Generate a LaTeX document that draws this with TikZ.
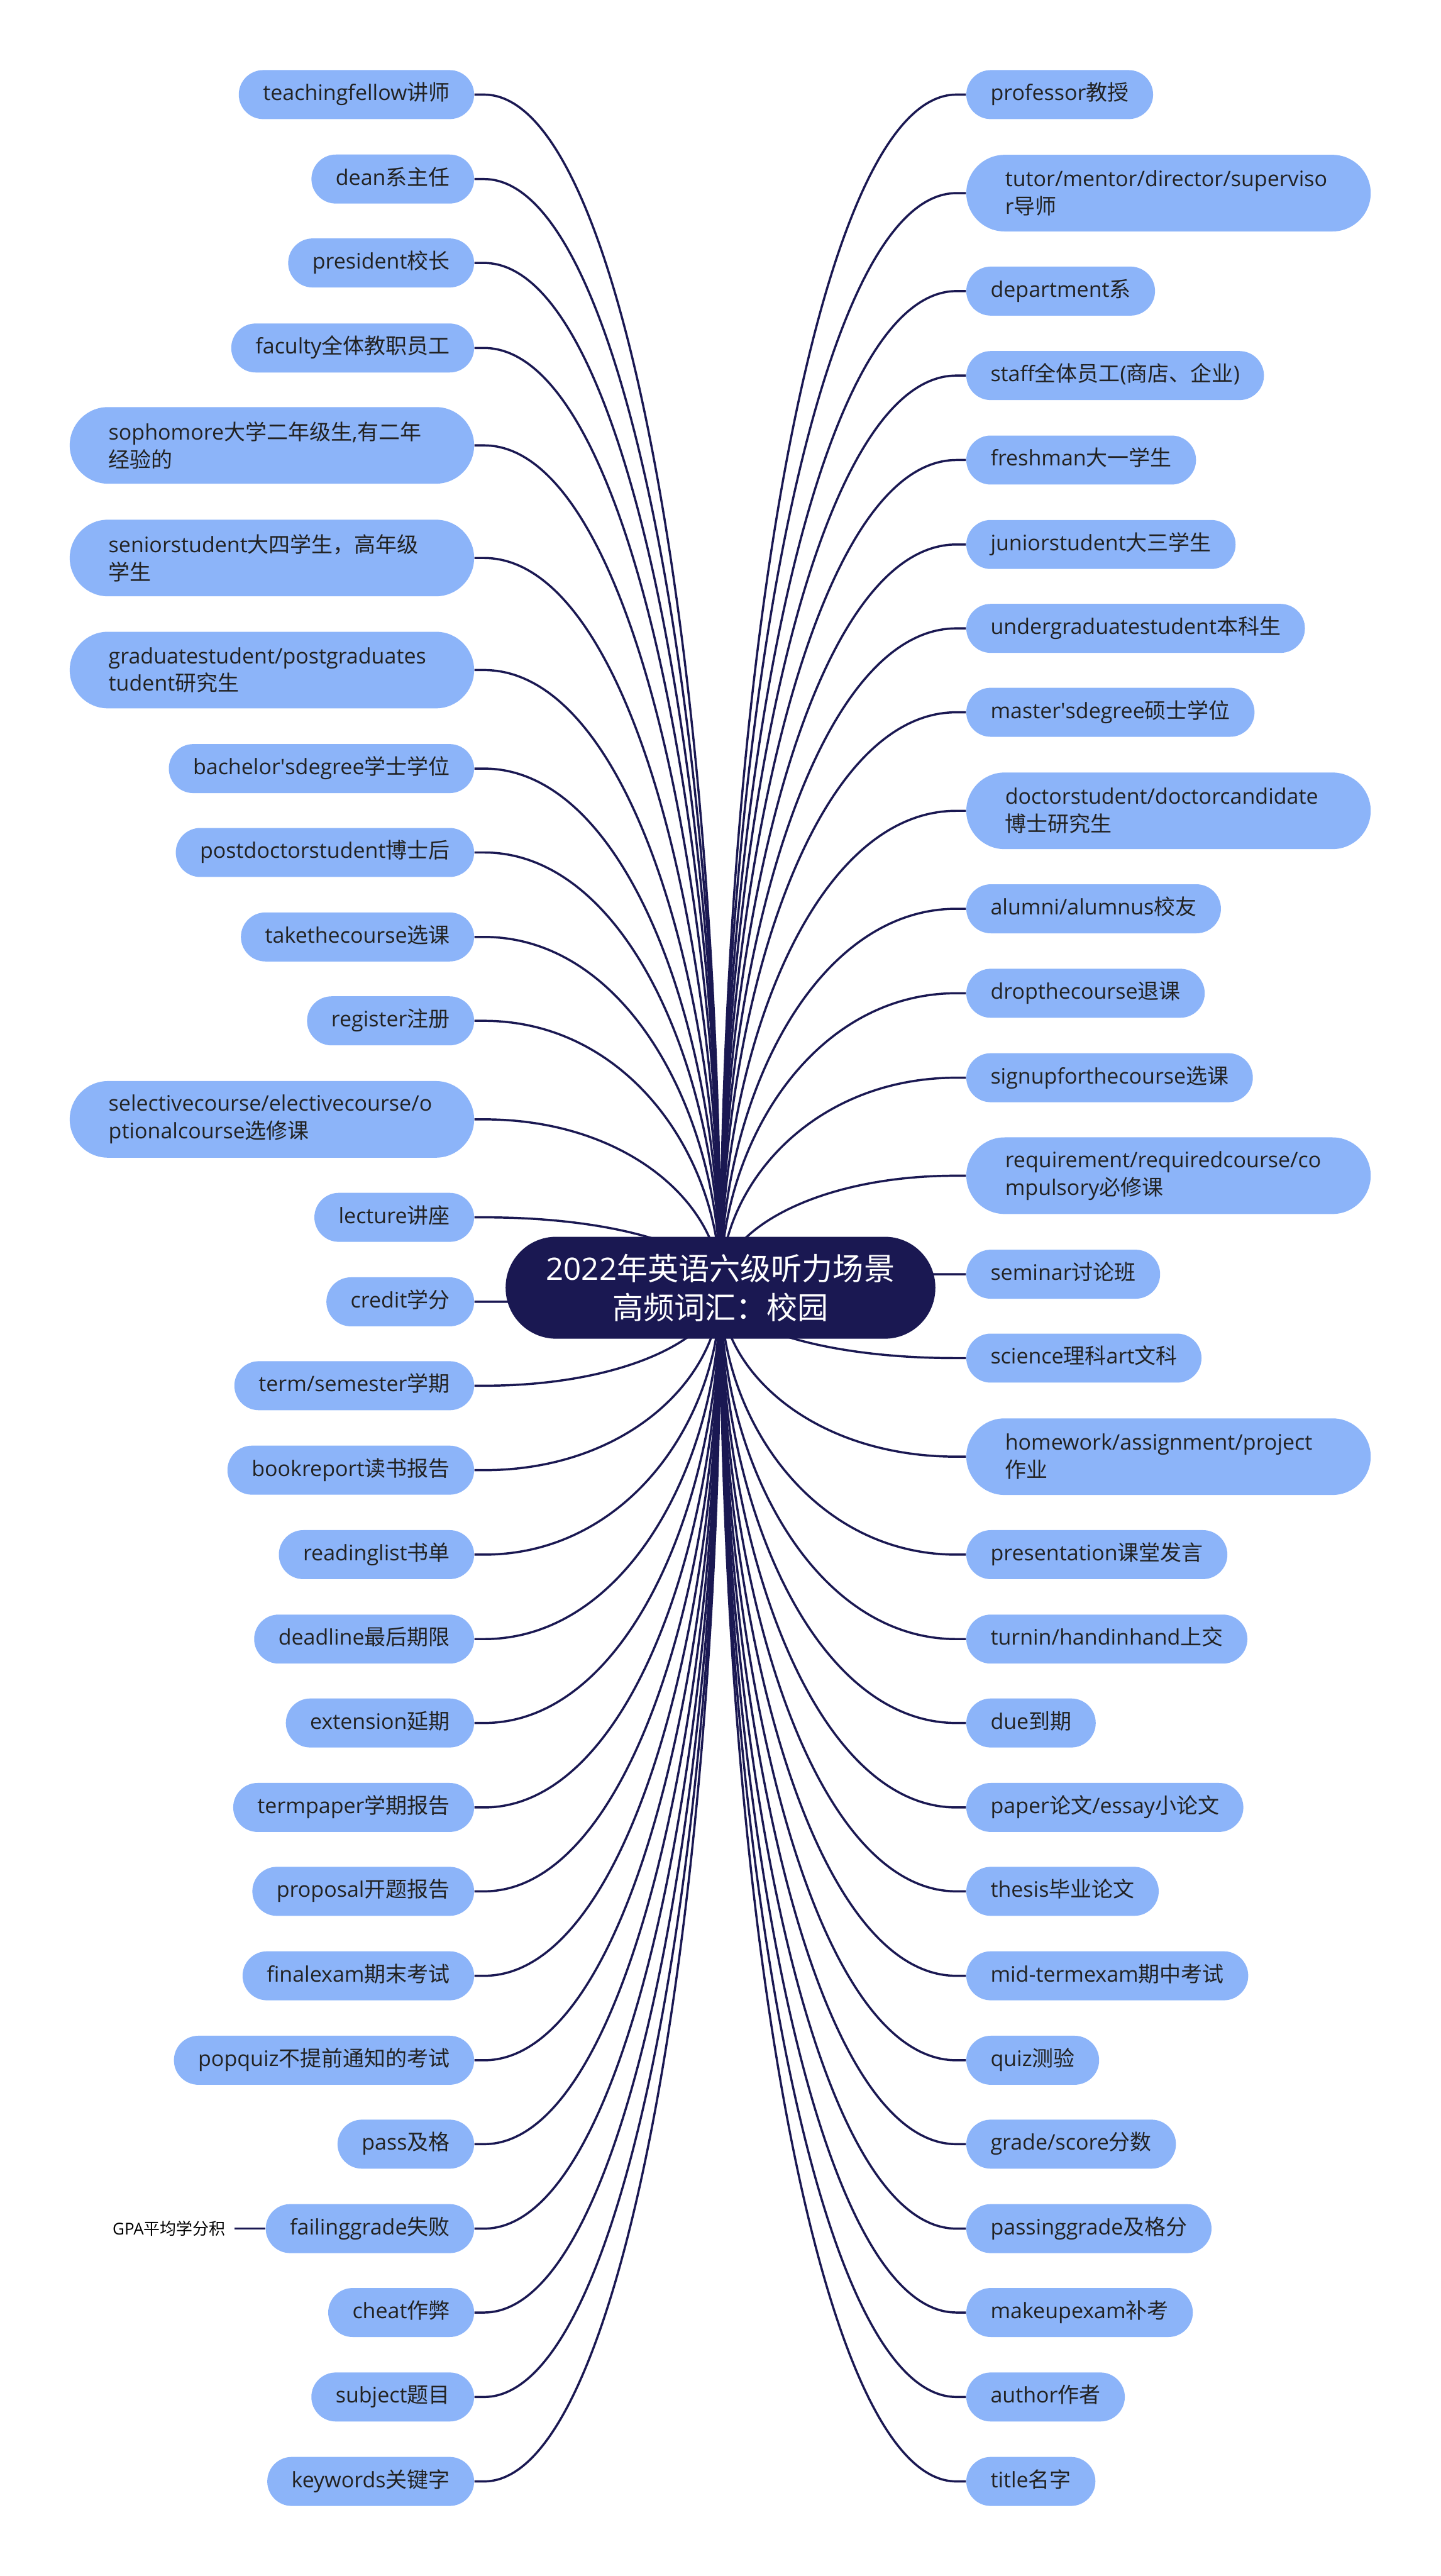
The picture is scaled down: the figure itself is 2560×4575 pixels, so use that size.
\documentclass[tikz,border=0pt]{standalone}
\usepackage{fontspec}
\setmainfont{Open Sans}
\newfontfamily\cjk{Noto Sans CJK SC}
\usetikzlibrary{calc,backgrounds}
\newcommand\C[1]{{\cjk #1}}
\newcommand\leaffont{\fontsize{10.8}{13.9}\selectfont}
\newcommand\rootfont{\fontsize{15.6}{19.6}\selectfont}
\newcommand\gpafont{\fontsize{8.25}{10}\selectfont}
\definecolor{leafblue}{HTML}{8CB4F9}
\definecolor{navy}{HTML}{1A1852}
\definecolor{leaftext}{HTML}{222222}
\tikzset{
  leaf/.style={fill=leafblue, text=leaftext, rounded corners=0.435cm, minimum height=0.87cm,
    inner xsep=0.43cm, inner ysep=0pt, font=\leaffont, text height=0.8em, text depth=0.2em},
  leaftwo/.style={fill=leafblue, text=leaftext, rounded corners=0.68cm, minimum height=1.36cm,
    text width=5.8cm, align=left, inner xsep=0.69cm, inner ysep=0pt, font=\leaffont},
  rootnode/.style={fill=navy, text=white, rounded corners=0.9cm, minimum width=7.63cm,
    minimum height=1.81cm, align=center, font=\rootfont, inner sep=0pt},
  conn/.style={draw=navy, line width=1.1pt},
}
\begin{document}
\begin{tikzpicture}[x=0.01cm,y=-0.01cm]
\useasboundingbox (0,0) rectangle (2560,4575);
\node[rootnode] (root) at (1280,2287) {2022\C{年英语六级听力场景}\\\C{高频词汇：校园}};
% left side
\node[leaf,anchor=east] (L1) at (843,168) {teachingfellow\C{讲师}};
\node[leaf,anchor=east] (L2) at (843,318) {dean\C{系主任}};
\node[leaf,anchor=east] (L3) at (843,467) {president\C{校长}};
\node[leaf,anchor=east] (L4) at (843,618) {faculty\C{全体教职员工}};
\node[leaftwo,anchor=east] (L5) at (843,791) {sophomore\C{大学二年级生},\C{有二年}\\\C{经验的}};
\node[leaftwo,anchor=east] (L6) at (843,991) {seniorstudent\C{大四学生，高年级}\\\C{学生}};
\node[leaftwo,anchor=east] (L7) at (843,1190) {graduatestudent/postgraduates\\tudent\C{研究生}};
\node[leaf,anchor=east] (L8) at (843,1365) {bachelor\textquotesingle sdegree\C{学士学位}};
\node[leaf,anchor=east] (L9) at (843,1514) {postdoctorstudent\C{博士后}};
\node[leaf,anchor=east] (L10) at (843,1664) {takethecourse\C{选课}};
\node[leaf,anchor=east] (L11) at (843,1813) {register\C{注册}};
\node[leaftwo,anchor=east] (L12) at (843,1988) {selectivecourse/electivecourse/o\\ptionalcourse\C{选修课}};
\node[leaf,anchor=east] (L13) at (843,2162) {lecture\C{讲座}};
\node[leaf,anchor=east] (L14) at (843,2312) {credit\C{学分}};
\node[leaf,anchor=east] (L15) at (843,2461) {term/semester\C{学期}};
\node[leaf,anchor=east] (L16) at (843,2611) {bookreport\C{读书报告}};
\node[leaf,anchor=east] (L17) at (843,2761) {readinglist\C{书单}};
\node[leaf,anchor=east] (L18) at (843,2911) {deadline\C{最后期限}};
\node[leaf,anchor=east] (L19) at (843,3060) {extension\C{延期}};
\node[leaf,anchor=east] (L20) at (843,3210) {termpaper\C{学期报告}};
\node[leaf,anchor=east] (L21) at (843,3359) {proposal\C{开题报告}};
\node[leaf,anchor=east] (L22) at (843,3509) {finalexam\C{期末考试}};
\node[leaf,anchor=east] (L23) at (843,3659) {popquiz\C{不提前通知的考试}};
\node[leaf,anchor=east] (L24) at (843,3808) {pass\C{及格}};
\node[leaf,anchor=east] (L25) at (843,3958) {failinggrade\C{失败}};
\node[leaf,anchor=east] (L26) at (843,4107) {cheat\C{作弊}};
\node[leaf,anchor=east] (L27) at (843,4257) {subject\C{题目}};
\node[leaf,anchor=east] (L28) at (843,4407) {keywords\C{关键字}};
% right side
\node[leaf,anchor=west] (R1) at (1716,168) {professor\C{教授}};
\node[leaftwo,anchor=west] (R2) at (1716,343) {tutor/mentor/director/superviso\\r\C{导师}};
\node[leaf,anchor=west] (R3) at (1716,517) {department\C{系}};
\node[leaf,anchor=west] (R4) at (1716,667) {staff\C{全体员工}(\C{商店、企业})};
\node[leaf,anchor=west] (R5) at (1716,817) {freshman\C{大一学生}};
\node[leaf,anchor=west] (R6) at (1716,967) {juniorstudent\C{大三学生}};
\node[leaf,anchor=west] (R7) at (1716,1116) {undergraduatestudent\C{本科生}};
\node[leaf,anchor=west] (R8) at (1716,1265) {master\textquotesingle sdegree\C{硕士学位}};
\node[leaftwo,anchor=west] (R9) at (1716,1440) {doctorstudent/doctorcandidate\\\C{博士研究生}};
\node[leaf,anchor=west] (R10) at (1716,1614) {alumni/alumnus\C{校友}};
\node[leaf,anchor=west] (R11) at (1716,1764) {dropthecourse\C{退课}};
\node[leaf,anchor=west] (R12) at (1716,1914) {signupforthecourse\C{选课}};
\node[leaftwo,anchor=west] (R13) at (1716,2088) {requirement/requiredcourse/co\\mpulsory\C{必修课}};
\node[leaf,anchor=west] (R14) at (1716,2263) {seminar\C{讨论班}};
\node[leaf,anchor=west] (R15) at (1716,2412) {science\C{理科}art\C{文科}};
\node[leaftwo,anchor=west] (R16) at (1716,2587) {homework/assignment/project\\\C{作业}};
\node[leaf,anchor=west] (R17) at (1716,2761) {presentation\C{课堂发言}};
\node[leaf,anchor=west] (R18) at (1716,2911) {turnin/handinhand\C{上交}};
\node[leaf,anchor=west] (R19) at (1716,3060) {due\C{到期}};
\node[leaf,anchor=west] (R20) at (1716,3210) {paper\C{论文}/essay\C{小论文}};
\node[leaf,anchor=west] (R21) at (1716,3359) {thesis\C{毕业论文}};
\node[leaf,anchor=west] (R22) at (1716,3509) {mid-termexam\C{期中考试}};
\node[leaf,anchor=west] (R23) at (1716,3659) {quiz\C{测验}};
\node[leaf,anchor=west] (R24) at (1716,3808) {grade/score\C{分数}};
\node[leaf,anchor=west] (R25) at (1716,3958) {passinggrade\C{及格分}};
\node[leaf,anchor=west] (R26) at (1716,4107) {makeupexam\C{补考}};
\node[leaf,anchor=west] (R27) at (1716,4257) {author\C{作者}};
\node[leaf,anchor=west] (R28) at (1716,4407) {title\C{名字}};
% sub-topic
\node[anchor=east, inner xsep=0.15cm, inner ysep=0pt, font=\gpafont, text=black] (gpa)
  at ($(L25.west)+(-55,0)$) {GPA\C{平均学分积}};
\draw[conn] (gpa.east) -- (L25.west);
\begin{pgfonlayer}{background}
\fill[white] (0,0) rectangle (2560,4575);
\foreach \n in {L1,L2,L3,L4,L5,L6,L7,L8,L9,L10,L11,L12,L13,L14,L15,L16,L17,L18,L19,L20,L21,L22,L23,L24,L25,L26,L27,L28} {
  \draw[conn] (\n.east) -- ++(17,0) coordinate (tmp)
    .. controls ($(tmp)!0.6!(tmp-|root.center)$) and ($(root.center)!0.5!(root.center|-tmp)$) .. (root.center);
}
\foreach \n in {R1,R2,R3,R4,R5,R6,R7,R8,R9,R10,R11,R12,R13,R14,R15,R16,R17,R18,R19,R20,R21,R22,R23,R24,R25,R26,R27,R28} {
  \draw[conn] (\n.west) -- ++(-17,0) coordinate (tmp)
    .. controls ($(tmp)!0.6!(tmp-|root.center)$) and ($(root.center)!0.5!(root.center|-tmp)$) .. (root.center);
}
\end{pgfonlayer}
\end{tikzpicture}
\end{document}
